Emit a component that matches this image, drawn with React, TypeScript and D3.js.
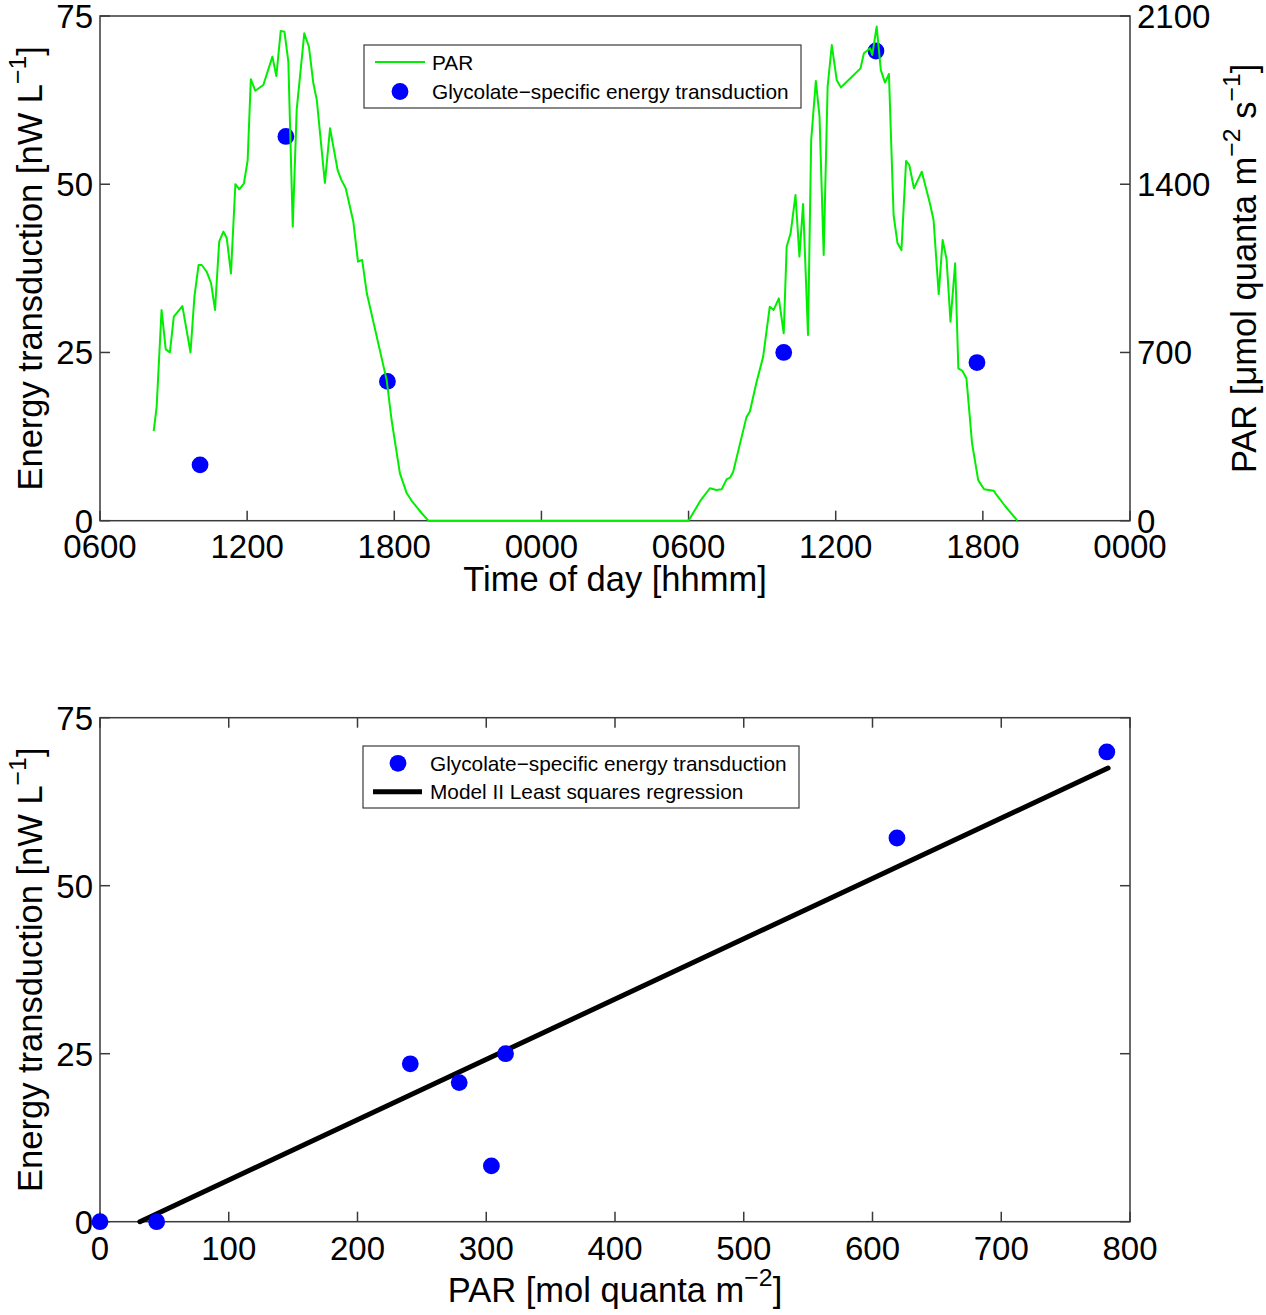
import React from "react";
import * as d3 from "d3";

// ---------- data ----------
const parHours = [
  8.19, 8.31, 8.51, 8.68, 8.85, 9.01, 9.36, 9.69, 9.85, 10.02,
  10.15, 10.35, 10.53, 10.69, 10.86, 11.03, 11.17, 11.34, 11.52, 11.68,
  11.87, 12.02, 12.15, 12.33, 12.66, 13.03, 13.19, 13.37, 13.52, 13.68,
  13.86, 14.02, 14.33, 14.52, 14.7, 14.84, 15.17, 15.38, 15.69, 15.84,
  16.02, 16.33, 16.52, 16.69, 16.88, 17.69, 17.89, 18.23, 18.51, 18.71,
  19.12, 19.39,
  30.0, 30.5, 30.87, 31.14, 31.35, 31.55, 31.69, 31.82, 32.36, 32.5,
  32.76, 33.04, 33.31, 33.47, 33.68, 33.88, 34.0, 34.16, 34.36, 34.52,
  34.67, 34.87, 35.0, 35.19, 35.34, 35.51, 35.67, 35.84, 36.04, 36.21,
  36.6, 37.01, 37.15, 37.4, 37.49, 37.67, 37.84, 38.01, 38.17, 38.36,
  38.52, 38.68, 38.87, 39.0, 39.19, 39.51, 39.84, 39.99, 40.2, 40.36,
  40.52, 40.68, 40.87, 41.0, 41.16, 41.33, 41.56, 41.81, 42.05, 42.44,
  42.56, 42.93, 43.41,
];
const parValues = [
  373, 474, 877, 714, 700, 849, 893, 700, 932, 1064,
  1064, 1036, 988, 877, 1161, 1203, 1175, 1029, 1400, 1379,
  1404, 1499, 1837, 1789, 1813, 1931, 1850, 2038, 2035, 1910,
  1223, 1709, 2028, 1972, 1820, 1751, 1406, 1633, 1459, 1418,
  1383, 1244, 1078, 1085, 946, 585, 419, 197, 114, 83,
  31, 0,
  0, 86, 135, 128, 131, 172, 179, 204, 431, 454,
  572, 682, 890, 877, 925, 780, 1140, 1196, 1355, 1099,
  1318, 773, 1584, 1830, 1681, 1106, 1806, 1979, 1834, 1803,
  1841, 1882, 1945, 1966, 1938, 2056, 1875, 1823, 1859, 1272,
  1154, 1126, 1497, 1480, 1383, 1452, 1321, 1251, 943, 1168,
  1088, 828, 1071, 634, 624, 593, 322, 169, 131, 125,
  107, 58, 0,
];

const energyHours = [10.08, 13.58, 17.72, 33.88, 37.64, 41.76];
const energyValues = [8.3, 57.1, 20.7, 25.0, 69.8, 23.5];

const timeTicks = [6, 12, 18, 24, 30, 36, 42, 48];
const timeTickLabels = ["0600", "1200", "1800", "0000", "0600", "1200", "1800", "0000"];
const energyTicks = [0, 25, 50, 75];
const parTicks = [0, 700, 1400, 2100];

const scatterPar = [0, 44, 241, 279, 304, 315, 619, 782];
const scatterEnergy = [0, 0, 23.5, 20.7, 8.3, 25.0, 57.1, 69.9];
const regPar = [31, 783];
const regEnergy = [0, 67.5];
const parTotalTicks = [0, 100, 200, 300, 400, 500, 600, 700, 800];

// ---------- style ----------
const FONT = "'Liberation Sans', Arial, Helvetica, sans-serif";
const AXIS = "#3a3a3a";
const GREEN = "#00ee00";
const BLUE = "#0000ff";
const TICK_FS = 33;
const LABEL_FS = 34.5;
const LEG_FS = 20.8;
const TL = 10;

const L = 100;
const R = 1130;
const T1 = 16;
const B1 = 520.7;
const T2 = 717.7;
const B2 = 1221.7;

export default function App() {
  const x1 = d3.scaleLinear().domain([6, 48]).range([L, R]);
  const yE1 = d3.scaleLinear().domain([0, 75]).range([B1, T1]);
  const yP1 = d3.scaleLinear().domain([0, 2100]).range([B1, T1]);
  const x2 = d3.scaleLinear().domain([0, 800]).range([L, R]);
  const y2 = d3.scaleLinear().domain([0, 75]).range([B2, T2]);

  const parLine = d3
    .line<number>()
    .x((_, i) => x1(parHours[i]))
    .y((d) => yP1(d))(parValues) as string;

  const regLine = d3
    .line<number>()
    .x((d) => x2(d))
    .y((_, i) => y2(regEnergy[i]))(regPar) as string;

  const midY1 = (T1 + B1) / 2;
  const midY2 = (T2 + B2) / 2;
  const midX = (L + R) / 2;
  const supFs = LABEL_FS * 0.72;
  const supUp = LABEL_FS * 0.45;
  const tickDy = TICK_FS * 0.36;

  return (
    <svg
      width={1266}
      height={1315}
      style={{ position: "absolute", left: 0, top: 0, background: "#fff" }}
      fontFamily={FONT}
    >
      <rect x={0} y={0} width={1266} height={1315} fill="#fff" />

      {/* ================= TOP CHART ================= */}
      <g>
        {/* frame */}
        <rect x={L} y={T1} width={R - L} height={B1 - T1} fill="none" stroke={AXIS} strokeWidth={1.5} />
        {/* x ticks */}
        {timeTicks.map((t, i) => (
          <g key={i}>
            <line x1={x1(t)} x2={x1(t)} y1={B1} y2={B1 - TL} stroke={AXIS} strokeWidth={1.5} />
            <text x={x1(t)} y={558} fontSize={TICK_FS} textAnchor="middle" fill="#000">
              {timeTickLabels[i]}
            </text>
          </g>
        ))}
        {/* left ticks */}
        {energyTicks.map((t) => (
          <g key={t}>
            <line x1={L} x2={L + TL} y1={yE1(t)} y2={yE1(t)} stroke={AXIS} strokeWidth={1.5} />
            <text x={93} y={yE1(t) + tickDy} fontSize={TICK_FS} textAnchor="end" fill="#000">
              {t}
            </text>
          </g>
        ))}
        {/* right ticks */}
        {parTicks.map((t) => (
          <g key={t}>
            <line x1={R} x2={R - TL} y1={yP1(t)} y2={yP1(t)} stroke={AXIS} strokeWidth={1.5} />
            <text x={1137} y={yP1(t) + tickDy} fontSize={TICK_FS} textAnchor="start" fill="#000">
              {t}
            </text>
          </g>
        ))}

        {/* dots */}
        {energyValues.map((v, i) => (
          <circle key={i} cx={x1(energyHours[i])} cy={yE1(v)} r={8.4} fill={BLUE} />
        ))}
        {/* PAR line */}
        <path d={parLine} fill="none" stroke={GREEN} strokeWidth={2} strokeLinejoin="round" />

        {/* axis labels */}
        <text x={midX} y={591} fontSize={LABEL_FS} textAnchor="middle" fill="#000">
          Time of day [hhmm]
        </text>
        <text
          transform={`translate(42,${midY1}) rotate(-90)`}
          fontSize={LABEL_FS}
          textAnchor="middle"
          fill="#000"
        >
          Energy transduction [nW L
          <tspan dy={-supUp} fontSize={supFs}>−1</tspan>
          <tspan dy={supUp}>]</tspan>
        </text>
        <text
          transform={`translate(1256,${midY1}) rotate(-90)`}
          fontSize={LABEL_FS}
          textAnchor="middle"
          fill="#000"
        >
          PAR [μmol quanta m
          <tspan dy={-supUp} fontSize={supFs}>−2</tspan>
          <tspan dy={supUp}> s</tspan>
          <tspan dy={-supUp} fontSize={supFs}>−1</tspan>
          <tspan dy={supUp}>]</tspan>
        </text>

        {/* legend */}
        <rect x={364} y={45} width={437} height={63} fill="#fff" stroke={AXIS} strokeWidth={1.2} />
        <line x1={375} x2={425} y1={62} y2={62} stroke={GREEN} strokeWidth={2} />
        <text x={432} y={69.5} fontSize={LEG_FS} fill="#000">PAR</text>
        <circle cx={400} cy={91.5} r={8.4} fill={BLUE} />
        <text x={432} y={98.5} fontSize={LEG_FS} fill="#000">Glycolate−specific energy transduction</text>
      </g>

      {/* ================= BOTTOM CHART ================= */}
      <g>
        <rect x={L} y={T2} width={R - L} height={B2 - T2} fill="none" stroke={AXIS} strokeWidth={1.5} />
        {parTotalTicks.map((t) => (
          <g key={t}>
            <line x1={x2(t)} x2={x2(t)} y1={B2} y2={B2 - TL} stroke={AXIS} strokeWidth={1.5} />
            <line x1={x2(t)} x2={x2(t)} y1={T2} y2={T2 + TL} stroke={AXIS} strokeWidth={1.5} />
            <text x={x2(t)} y={1260} fontSize={TICK_FS} textAnchor="middle" fill="#000">
              {t}
            </text>
          </g>
        ))}
        {energyTicks.map((t) => (
          <g key={t}>
            <line x1={L} x2={L + TL} y1={y2(t)} y2={y2(t)} stroke={AXIS} strokeWidth={1.5} />
            <line x1={R} x2={R - TL} y1={y2(t)} y2={y2(t)} stroke={AXIS} strokeWidth={1.5} />
            <text x={93} y={y2(t) + tickDy} fontSize={TICK_FS} textAnchor="end" fill="#000">
              {t}
            </text>
          </g>
        ))}

        <path d={regLine} fill="none" stroke="#000" strokeWidth={5} strokeLinecap="round" />
        {scatterEnergy.map((v, i) => (
          <circle key={i} cx={x2(scatterPar[i])} cy={y2(v)} r={8.4} fill={BLUE} />
        ))}

        <text x={midX} y={1302} fontSize={LABEL_FS} textAnchor="middle" fill="#000">
          PAR [mol quanta m
          <tspan dy={-supUp} fontSize={supFs}>−2</tspan>
          <tspan dy={supUp}>]</tspan>
        </text>
        <text
          transform={`translate(42,${midY2}) rotate(-90)`}
          fontSize={LABEL_FS}
          textAnchor="middle"
          fill="#000"
        >
          Energy transduction [nW L
          <tspan dy={-supUp} fontSize={supFs}>−1</tspan>
          <tspan dy={supUp}>]</tspan>
        </text>

        {/* legend */}
        <rect x={363} y={746} width={436} height={62} fill="#fff" stroke={AXIS} strokeWidth={1.2} />
        <circle cx={398} cy={763.3} r={8.4} fill={BLUE} />
        <text x={430} y={770.5} fontSize={LEG_FS} fill="#000">Glycolate−specific energy transduction</text>
        <line x1={373} x2={422} y1={791.7} y2={791.7} stroke="#000" strokeWidth={5} />
        <text x={430} y={798.7} fontSize={LEG_FS} fill="#000">Model II Least squares regression</text>
      </g>
    </svg>
  );
}
